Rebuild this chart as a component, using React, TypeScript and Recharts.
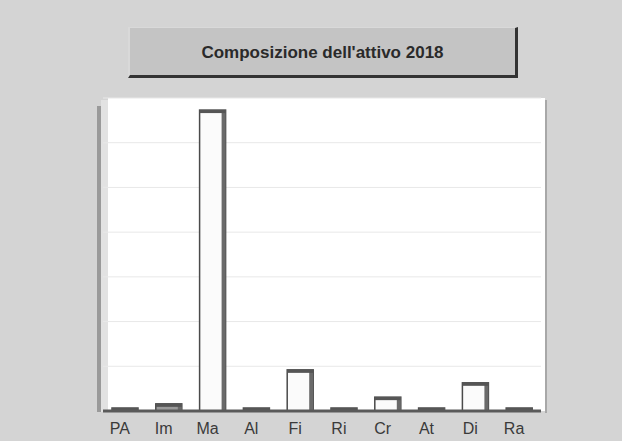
import React from "react";
import { BarChart, Bar, XAxis, YAxis, CartesianGrid } from "recharts";

const categories = ["PA", "Im", "Ma", "Al", "Fi", "Ri", "Cr", "At", "Di", "Ra"];
const values = [0.6, 1.6, 67.3, 0.6, 9.2, 0.6, 3.1, 0.6, 6.3, 0.6];
const yTicks = [0, 10, 20, 30, 40, 50, 60, 70];
const title = "Composizione dell'attivo 2018";

const data = categories.map((c, i) => ({ name: c, value: values[i] }));

const Bar3D = (props: any) => {
  const { x, y, width, height } = props;
  if (height == null || width == null) return null;
  const d = 4;
  const h = Math.max(height, 3);
  const top = y + height - h;
  const small = h < 10;
  return (
    <g>
      <rect x={x} y={top} width={width} height={h} fill={small ? "#9a9a9a" : "#fbfbfb"} stroke="#4a4a4a" strokeWidth={1.5} />
      <rect x={x + width - d} y={top} width={d} height={h} fill="#6a6a6a" />
      <rect x={x} y={top} width={width} height={Math.min(3, h)} fill="#555" />
    </g>
  );
};

export default function App() {
  return (
    <div
      style={{
        position: "absolute",
        left: 0,
        top: 0,
        width: 622,
        height: 441,
        background: "#d4d4d4",
        overflow: "hidden",
        fontFamily: "'Liberation Sans', Arial, sans-serif",
      }}
    >
      <div
        style={{
          position: "absolute",
          left: 128,
          top: 27,
          width: 385,
          height: 45,
          boxSizing: "content-box",
          paddingTop: 2,
          background: "#c4c4c4",
          borderLeft: "2px solid #d9d9d9",
          borderTop: "1px solid #d9d9d9",
          borderRight: "3px solid #333",
          borderBottom: "3px solid #333",
          display: "flex",
          alignItems: "center",
          justifyContent: "center",
          fontWeight: "bold",
          fontSize: 17,
          color: "#2a2a2a",
        }}
      >
        {title}
      </div>
      <div style={{ position: "absolute", left: 97, top: 106, width: 4, height: 306, background: "#9a9a9a" }} />
      <div style={{ position: "absolute", left: 101, top: 100, width: 7, height: 312, background: "#e2e2e2" }} />
      <div style={{ position: "absolute", left: 108, top: 98, width: 437, height: 313, background: "#ffffff" }} />
      <div style={{ position: "absolute", left: 545, top: 100, width: 2, height: 313, background: "#a8a8a8" }} />
      <div style={{ position: "absolute", left: 0, top: 0 }}>
        <BarChart
          width={622}
          height={441}
          data={data}
          margin={{ top: 98, right: 81, bottom: 0, left: 103 }}
          barCategoryGap={0}
        >
          <CartesianGrid vertical={false} stroke="#e8e8e8" />
          <YAxis hide domain={[0, 70]} ticks={yTicks} />
          <XAxis
            dataKey="name"
            height={30}
            tickLine={false}
            tickSize={0}
            tickMargin={12}
            axisLine={{ stroke: "#5a5a5a", strokeWidth: 3 }}
            tick={{ fill: "#3a3a3a", fontSize: 16, dx: -5 }}
            interval={0}
          />
          <Bar dataKey="value" barSize={26} shape={<Bar3D />} isAnimationActive={false} />
        </BarChart>
      </div>
    </div>
  );
}
